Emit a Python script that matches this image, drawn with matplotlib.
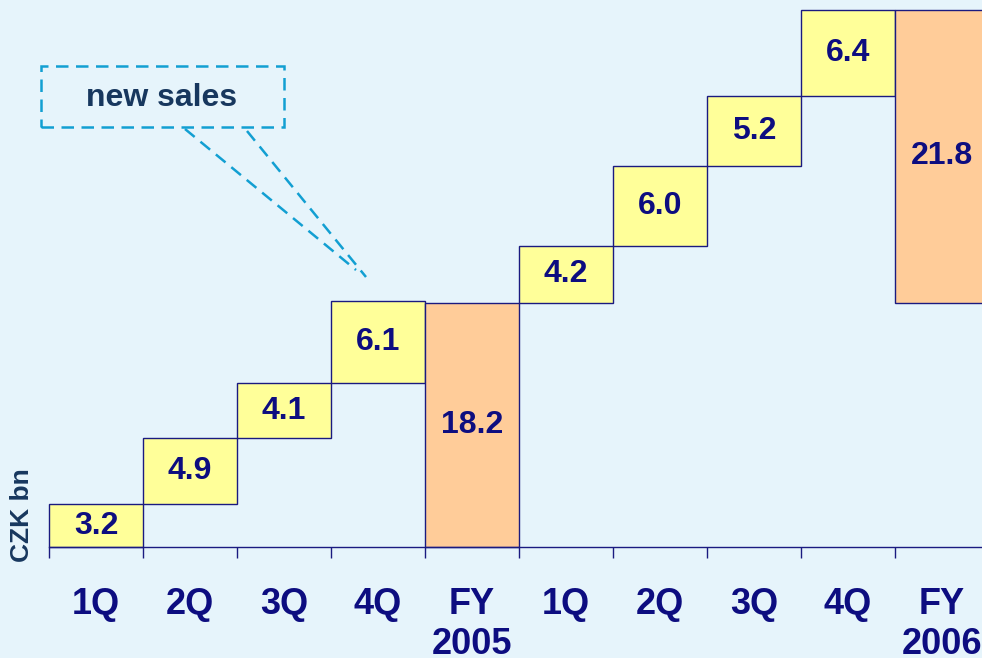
import matplotlib
matplotlib.use("Agg")
import matplotlib.pyplot as plt
from matplotlib.patches import Rectangle
from matplotlib.lines import Line2D

# Quarterly new sales (CZK bn) and the full-year totals
categories = ["1Q", "2Q", "3Q", "4Q", "FY\n2005", "1Q", "2Q", "3Q", "4Q", "FY\n2006"]
quarters_2005 = [3.2, 4.9, 4.1, 6.1]
total_2005 = 18.2
quarters_2006 = [4.2, 6.0, 5.2, 6.4]
total_2006 = 21.8

BG = "#e6f4fb"
YELLOW = "#ffff99"
ORANGE = "#ffcc99"
EDGE = "#1a1a80"
NAVY = "#0d0d80"
SLATE = "#17375e"
DASH = "#129fd2"

fig = plt.figure(figsize=(9.82, 6.58), dpi=100, facecolor=BG)
W, H = 982, 658

# axes: x from 49 px, baseline at 547 px, top of scale at 10 px
x0, base_px, top_px = 49, 547, 10
bar_px = 94
ax = fig.add_axes([x0 / W, 1 - base_px / H, (W - x0) / W, (base_px - top_px) / H])
ax.set_facecolor(BG)

# build waterfall segments: (bottom, height, colour)
segments = []
running = 0.0
for v in quarters_2005:
    segments.append((running, v, YELLOW))
    running += v
segments.append((0.0, total_2005, ORANGE))
running = total_2005
for v in quarters_2006:
    segments.append((running, v, YELLOW))
    running += v
segments.append((total_2005, total_2006, ORANGE))

for i, (b, h, c) in enumerate(segments):
    ax.bar(i, h, width=1.0, bottom=b, align="edge", color=c,
           edgecolor=EDGE, linewidth=1.0, clip_on=False)
    ax.text(i + 0.5, b + h / 2, f"{h:.1f}", ha="center", va="center",
            fontsize=23, fontweight="bold", color=NAVY,
            family="Liberation Sans")

for s in ["top", "right", "left"]:
    ax.spines[s].set_visible(False)
ax.spines["bottom"].set_color(EDGE)
ax.spines["bottom"].set_linewidth(1.0)
ax.set_yticks([])

edges = list(range(len(categories) + 1))
centers = [i + 0.5 for i in range(len(categories))]
ax.set_xticks(edges)
ax.set_xticklabels([""] * len(edges))
ax.tick_params(axis="x", which="major", direction="out", length=8,
               width=1.0, color=EDGE)
ax.set_xticks(centers, minor=True)
ax.set_xticklabels(categories, minor=True, fontsize=26, fontweight="bold",
                   color=NAVY, family="Liberation Sans", linespacing=1.18)
ax.tick_params(axis="x", which="minor", length=0, pad=29)

# limits set after the ticks so the tick list does not widen the view
ax.set_xlim(0, (W - x0) / bar_px)
ax.set_ylim(0, 40)


def fx(px):
    return px / W


def fy(py):
    return 1 - py / H


# unit label, rotated, beside the first bar
fig.text(fx(22), fy(515), "CZK bn", rotation=90, ha="center", va="center",
         fontsize=19, fontweight="bold", color=SLATE, family="Liberation Sans")

# "new sales" callout with dashed box and pointer
box = Rectangle((fx(41), fy(127)), fx(284) - fx(41), fy(66) - fy(127),
                transform=fig.transFigure, fill=False, edgecolor=DASH,
                linewidth=1.8, linestyle=(0, (5, 3)))
fig.add_artist(box)
fig.text(fx(162), fy(98), "new sales", ha="center", va="center",
         fontsize=23, fontweight="bold", color=SLATE, family="Liberation Sans")
for (xa, ya), (xb, yb) in [((185, 129), (356, 270)), ((247, 131), (366, 277))]:
    fig.add_artist(Line2D([fx(xa), fx(xb)], [fy(ya), fy(yb)],
                          transform=fig.transFigure, color=DASH,
                          linewidth=1.8, linestyle=(0, (5, 3))))

fig.savefig("out.png", dpi=100, facecolor=BG)
